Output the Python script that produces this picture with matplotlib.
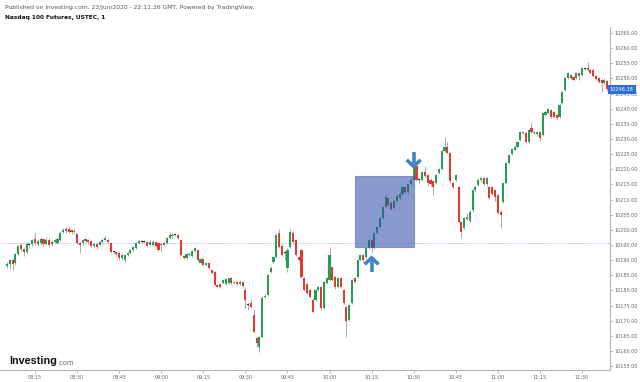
import matplotlib.pyplot as plt
import matplotlib.transforms as mtransforms
from matplotlib.patches import Rectangle
import numpy as np
import pandas as pd

# Nasdaq 100 futures, 1 minute candles from 08:05
start = '2020-06-23 08:05'

opens = [
    10188.2, 10188.8, 10190.0, 10189.0, 10192.0, 10195.0, 10193.7, 10192.7, 10195.3, 10195.2,
    10197.0, 10195.4, 10195.7, 10196.9, 10195.4, 10196.7, 10196.0, 10196.0, 10195.8, 10196.7,
    10199.2, 10200.2, 10200.2, 10200.0, 10199.2, 10198.5, 10195.8, 10195.5, 10197.0, 10196.7,
    10196.3, 10194.6, 10195.4, 10195.0, 10196.0, 10196.7, 10196.8, 10195.7, 10192.8, 10192.7,
    10192.2, 10190.7, 10190.1, 10191.7, 10192.4, 10193.4, 10194.0, 10195.7, 10196.1, 10196.0,
    10196.0, 10195.0, 10195.0, 10196.0, 10195.7, 10195.3, 10195.7, 10195.7, 10197.3, 10197.8,
    10198.4, 10198.4, 10196.7, 10191.4, 10190.7, 10191.8, 10191.4, 10193.0, 10193.4, 10189.1,
    10190.4, 10188.4, 10189.1, 10186.8, 10186.0, 10181.8, 10182.2, 10182.5, 10182.2, 10182.5,
    10184.1, 10182.5, 10182.8, 10182.2, 10182.8, 10180.2, 10175.3, 10175.9, 10172.0, 10164.3,
    10161.4, 10164.6, 10177.9, 10178.5, 10186.0, 10189.4, 10191.0, 10199.0, 10194.8, 10192.4,
    10187.5, 10194.4, 10199.0, 10196.7, 10191.0, 10193.4, 10184.1, 10182.0, 10180.2, 10176.9,
    10176.9, 10180.2, 10181.2, 10174.2, 10182.5, 10183.5, 10187.8, 10184.4, 10181.2, 10184.1,
    10180.2, 10174.6, 10170.3, 10175.9, 10184.1, 10184.4, 10190.1, 10191.7, 10191.0, 10194.0,
    10196.7, 10194.0, 10199.0, 10201.0, 10204.0, 10207.7, 10210.6, 10209.0, 10207.3, 10209.6,
    10210.6, 10212.0, 10214.0, 10212.6, 10215.0, 10216.5, 10221.0, 10216.5, 10216.5, 10219.0,
    10218.0, 10216.5, 10216.0, 10215.5, 10218.8, 10220.0, 10226.0, 10227.5, 10225.4, 10215.5,
    10216.5, 10214.0, 10202.6, 10200.6, 10204.3, 10203.0, 10206.4, 10213.0, 10214.8, 10216.5,
    10217.2, 10215.0, 10214.0, 10214.0, 10213.0, 10211.5, 10206.0, 10209.3, 10215.5, 10222.1,
    10225.1, 10226.4, 10227.4, 10229.7, 10232.3, 10232.0, 10229.0, 10233.6, 10232.0, 10231.6,
    10232.3, 10231.3, 10237.9, 10238.6, 10239.6, 10238.9, 10237.9, 10237.3, 10241.9, 10246.2,
    10250.1, 10251.1, 10250.5, 10250.1, 10251.8, 10251.1, 10253.2, 10253.4, 10252.8, 10252.8,
    10250.8, 10250.1, 10249.5, 10248.5, 10249.2,
]
highs = [
    10189.5, 10190.5, 10190.5, 10192.5, 10195.0, 10195.5, 10194.0, 10196.0, 10195.8, 10197.0,
    10199.3, 10197.0, 10197.5, 10197.3, 10197.5, 10197.4, 10196.6, 10197.0, 10197.5, 10199.5,
    10200.5, 10201.0, 10201.3, 10200.4, 10200.2, 10199.0, 10196.2, 10197.0, 10197.4, 10197.0,
    10196.6, 10195.8, 10195.8, 10196.4, 10197.2, 10198.0, 10197.3, 10196.0, 10193.4, 10193.0,
    10192.6, 10192.2, 10192.0, 10192.8, 10193.8, 10194.8, 10196.0, 10196.8, 10196.6, 10196.5,
    10196.4, 10196.5, 10196.6, 10196.4, 10196.0, 10195.7, 10196.0, 10197.6, 10199.3, 10198.8,
    10198.8, 10198.7, 10197.0, 10191.8, 10192.4, 10192.6, 10193.3, 10194.4, 10193.8, 10190.8,
    10190.8, 10189.5, 10189.4, 10187.2, 10186.3, 10182.2, 10182.5, 10183.8, 10184.2, 10184.5,
    10184.4, 10183.2, 10183.2, 10183.3, 10183.1, 10181.0, 10176.0, 10177.0, 10174.0, 10164.7,
    10165.0, 10178.0, 10178.8, 10185.5, 10188.0, 10191.4, 10198.7, 10200.3, 10195.2, 10193.0,
    10194.0, 10200.4, 10199.5, 10197.0, 10191.4, 10193.8, 10184.4, 10182.5, 10180.6, 10177.5,
    10180.6, 10181.6, 10181.6, 10183.2, 10184.5, 10194.4, 10188.2, 10184.8, 10184.5, 10184.5,
    10180.6, 10175.0, 10175.6, 10183.9, 10184.5, 10190.5, 10192.1, 10192.1, 10194.4, 10197.1,
    10197.1, 10199.4, 10201.4, 10204.4, 10208.0, 10211.7, 10211.0, 10209.4, 10210.0, 10211.7,
    10212.4, 10214.4, 10214.4, 10215.4, 10217.0, 10221.0, 10222.0, 10217.0, 10219.4, 10221.0,
    10218.4, 10217.0, 10216.4, 10218.4, 10220.4, 10226.4, 10230.7, 10229.0, 10225.8, 10215.9,
    10218.4, 10214.4, 10203.0, 10204.4, 10205.5, 10206.4, 10213.4, 10214.6, 10217.0, 10217.4,
    10217.6, 10217.4, 10214.4, 10214.4, 10213.4, 10211.9, 10206.4, 10215.9, 10222.4, 10225.1,
    10227.1, 10227.8, 10229.4, 10232.7, 10232.7, 10232.4, 10233.4, 10235.6, 10232.8, 10232.7,
    10232.7, 10239.0, 10239.4, 10240.3, 10240.0, 10239.3, 10238.3, 10241.6, 10245.9, 10250.5,
    10252.2, 10251.5, 10250.9, 10252.2, 10252.2, 10253.8, 10253.8, 10255.4, 10253.2, 10253.2,
    10251.2, 10250.5, 10249.9, 10250.0, 10249.6,
]
lows = [
    10187.5, 10187.0, 10186.8, 10188.5, 10191.5, 10193.0, 10191.5, 10192.0, 10194.0, 10194.8,
    10195.0, 10194.8, 10195.0, 10194.5, 10195.0, 10194.3, 10194.8, 10195.6, 10195.3, 10196.2,
    10198.8, 10199.0, 10198.8, 10198.6, 10198.5, 10195.3, 10192.5, 10195.0, 10195.8, 10195.4,
    10194.2, 10194.0, 10193.8, 10194.5, 10195.6, 10196.2, 10195.6, 10192.2, 10192.0, 10191.4,
    10190.2, 10190.2, 10189.4, 10191.2, 10192.0, 10193.0, 10193.6, 10195.3, 10195.5, 10195.6,
    10194.2, 10194.6, 10194.5, 10194.2, 10193.0, 10192.7, 10194.6, 10195.3, 10197.0, 10197.4,
    10197.9, 10197.0, 10191.3, 10190.3, 10190.3, 10191.3, 10191.0, 10192.6, 10189.8, 10188.7,
    10188.0, 10188.0, 10187.0, 10185.4, 10181.4, 10180.8, 10180.8, 10182.2, 10181.8, 10182.2,
    10182.2, 10182.1, 10181.8, 10181.9, 10181.1, 10174.0, 10173.6, 10174.2, 10166.0, 10161.2,
    10159.7, 10164.2, 10177.4, 10178.0, 10185.6, 10189.0, 10190.6, 10194.0, 10191.3, 10190.0,
    10186.0, 10194.0, 10195.6, 10191.3, 10189.6, 10184.0, 10179.8, 10178.8, 10177.4, 10172.5,
    10176.5, 10179.8, 10173.5, 10173.8, 10182.1, 10183.1, 10183.1, 10180.5, 10180.8, 10180.8,
    10175.5, 10164.6, 10169.9, 10175.5, 10182.4, 10184.0, 10189.7, 10189.4, 10190.6, 10193.6,
    10192.4, 10193.6, 10198.6, 10200.6, 10203.6, 10207.3, 10207.9, 10206.4, 10206.9, 10209.2,
    10210.0, 10211.6, 10212.0, 10212.2, 10214.6, 10216.0, 10216.0, 10215.6, 10216.0, 10217.4,
    10214.5, 10214.6, 10211.6, 10215.0, 10218.4, 10219.6, 10225.6, 10225.1, 10215.6, 10213.6,
    10216.1, 10202.2, 10197.4, 10200.2, 10203.3, 10202.6, 10206.0, 10212.6, 10214.4, 10215.8,
    10214.6, 10214.6, 10210.1, 10211.6, 10209.4, 10205.2, 10200.6, 10208.9, 10215.1, 10221.6,
    10224.7, 10226.0, 10227.0, 10229.3, 10231.6, 10228.6, 10228.6, 10231.9, 10231.6, 10231.0,
    10229.5, 10230.9, 10237.5, 10238.2, 10236.9, 10236.9, 10236.3, 10236.9, 10241.5, 10245.8,
    10249.7, 10249.7, 10249.1, 10249.7, 10249.5, 10250.7, 10252.8, 10252.4, 10251.4, 10250.4,
    10249.4, 10248.4, 10245.5, 10248.1, 10246.0,
]
closes = [
    10188.6, 10190.2, 10188.8, 10192.0, 10194.5, 10193.7, 10192.7, 10195.4, 10195.1, 10196.8,
    10195.5, 10196.4, 10196.9, 10195.4, 10196.8, 10195.0, 10195.3, 10196.6, 10196.9, 10199.0,
    10200.1, 10199.5, 10199.2, 10199.3, 10199.6, 10195.7, 10195.0, 10196.5, 10196.4, 10196.0,
    10194.8, 10195.2, 10194.4, 10196.0, 10196.7, 10197.3, 10196.0, 10192.7, 10192.6, 10192.1,
    10190.7, 10191.7, 10191.7, 10192.4, 10193.4, 10194.4, 10195.7, 10196.4, 10196.0, 10196.1,
    10194.7, 10196.0, 10196.0, 10194.7, 10193.4, 10195.0, 10195.0, 10197.3, 10198.4, 10198.4,
    10198.3, 10197.3, 10191.7, 10190.7, 10192.1, 10192.1, 10193.0, 10194.0, 10190.1, 10190.4,
    10188.4, 10189.1, 10187.4, 10185.8, 10181.8, 10181.2, 10181.2, 10183.5, 10183.8, 10184.1,
    10182.5, 10182.8, 10182.2, 10182.8, 10181.5, 10176.9, 10175.1, 10174.6, 10166.3, 10162.7,
    10164.6, 10177.5, 10178.3, 10185.1, 10187.4, 10191.0, 10198.3, 10194.4, 10191.7, 10192.6,
    10193.5, 10199.3, 10196.0, 10191.7, 10190.0, 10184.4, 10180.2, 10179.2, 10177.9, 10172.9,
    10180.2, 10181.2, 10174.2, 10182.8, 10184.1, 10191.7, 10183.5, 10181.0, 10184.1, 10181.2,
    10175.9, 10169.8, 10175.2, 10183.5, 10182.8, 10190.1, 10191.7, 10190.1, 10194.0, 10196.7,
    10194.0, 10199.0, 10201.0, 10204.0, 10207.7, 10211.0, 10208.3, 10207.0, 10209.6, 10211.3,
    10212.0, 10214.0, 10212.6, 10215.0, 10216.5, 10220.5, 10216.5, 10216.4, 10219.0, 10217.8,
    10215.5, 10215.0, 10214.0, 10218.0, 10220.0, 10226.0, 10227.5, 10225.5, 10216.0, 10214.0,
    10218.0, 10202.6, 10199.3, 10204.0, 10203.7, 10206.0, 10213.0, 10214.2, 10216.5, 10217.0,
    10215.0, 10217.0, 10210.5, 10212.0, 10211.0, 10205.6, 10205.0, 10215.5, 10222.1, 10224.7,
    10226.7, 10227.4, 10229.0, 10232.3, 10232.0, 10229.0, 10233.0, 10232.3, 10232.3, 10232.3,
    10230.3, 10238.6, 10239.0, 10239.9, 10237.3, 10237.3, 10237.0, 10241.2, 10245.5, 10250.1,
    10251.8, 10250.1, 10249.5, 10251.8, 10250.8, 10253.4, 10253.4, 10252.8, 10251.8, 10250.8,
    10249.8, 10248.8, 10248.5, 10249.5, 10246.38,
]

ref_price = 10195.5
box_times = ('10:09', '10:30')
box_prices = (10194.3, 10217.7)
up_arrow = ('10:15', 10191.4)
down_arrow = ('10:30', 10220.3)

GREEN = '#1fa152'
RED = '#e0392f'
BLUE = '#3d85c6'

n = len(closes)
times = pd.date_range(start, periods=n, freq='min')
x = np.arange(n)
o = np.array(opens)
h = np.array(highs)
l = np.array(lows)
c = np.array(closes)


def idx(hhmm):
    return times.get_loc(pd.Timestamp(start[:11] + hhmm))


fig = plt.figure(figsize=(6.4, 3.82), dpi=100)
ax = fig.add_axes([0, 12 / 382, 610 / 640, 343 / 382])
ax.set_xlim(-2.5, 215)
ax.set_ylim(10153.7, 10267)

# candles
col = np.where(c > o + 0.2, GREEN, np.where(c < o - 0.2, RED, '#222222'))
ax.vlines(x, l, h, color='#a9a9a9', lw=0.7, zorder=2)
ax.bar(x, np.maximum(np.abs(c - o), 0.35), bottom=np.minimum(o, c), width=0.75,
       color=col, linewidth=0, zorder=3)

ax.axhline(ref_price, color='#a3b2ea', lw=0.6, ls=(0, (1.5, 1.5)), zorder=1)

# highlighted box
x0, x1 = idx(box_times[0]), idx(box_times[1])
ax.add_patch(Rectangle((x0, box_prices[0]), x1 - x0, box_prices[1] - box_prices[0],
                       facecolor='#2a48a8', alpha=0.55, edgecolor='#4a5fae', lw=0.8, zorder=4))


def chevron_arrow(xi, yp, pointing_up):
    s = 1 if pointing_up else -1
    tr = fig.dpi_scale_trans + mtransforms.ScaledTranslation(xi, yp, ax.transData)
    p = 0.01  # one pixel
    kw = dict(transform=tr, color=BLUE, lw=2.6, solid_capstyle='butt',
              solid_joinstyle='miter', zorder=6, clip_on=False)
    ax.plot([0, 0], [-s * 2 * p, -s * 16 * p], **kw)
    ax.plot([-7 * p, 0, 7 * p], [-s * 8.5 * p, -s * 2 * p, -s * 8.5 * p], **kw)


chevron_arrow(idx(up_arrow[0]), up_arrow[1], True)
chevron_arrow(idx(down_arrow[0]), down_arrow[1], False)

# axes styling
for side in ['top', 'left']:
    ax.spines[side].set_visible(False)
for side in ['right', 'bottom']:
    ax.spines[side].set_color('#b4b4b4')
    ax.spines[side].set_linewidth(0.8)

ax.yaxis.tick_right()
yt = np.arange(10155, 10266, 5)
ax.set_yticks(yt)
ax.set_yticklabels(['%.2f' % v for v in yt])
tick_idx = [i for i, t in enumerate(times) if t.minute % 15 == 0]
ax.set_xticks(tick_idx)
ax.set_xticklabels([times[i].strftime('%H:%M') for i in tick_idx])
ax.tick_params(axis='both', length=2, width=0.6, color='#b4b4b4',
               labelsize=3.5, labelcolor='#666666', pad=1.5)

# last price tag
ax.text(1.0, c[-1], '%.2f' % c[-1],
        transform=mtransforms.blended_transform_factory(ax.transAxes, ax.transData),
        ha='left', va='center', color='white', fontsize=3.6, zorder=7, clip_on=False,
        bbox=dict(boxstyle='square,pad=0.35', fc='#2e6ddf', ec='none'))

# header
fig.text(5 / 640, 1 - 7 / 382,
         'Published on Investing.com, 23/Jun/2020 - 22:11:26 GMT, Powered by TradingView.',
         fontsize=4.3, color='#555555', va='center', ha='left')
fig.text(5 / 640, 1 - 18 / 382, 'Nasdaq 100 Futures, USTEC, 1', fontsize=4.2,
         fontweight='bold', color='#111111', va='center', ha='left')

# logo
logo = fig.text(9 / 640, 1 - 364 / 382, 'Investing', fontsize=7.8, fontweight='bold',
                family='Liberation Sans', color='#111111', va='baseline', ha='left')
ax.annotate('.com', xy=(1, 0), xycoords=logo, xytext=(0.5, 0), textcoords='offset points',
            fontsize=4.8, color='#666666', va='bottom', ha='left', annotation_clip=False)

fig.savefig('out.png', dpi=100)
